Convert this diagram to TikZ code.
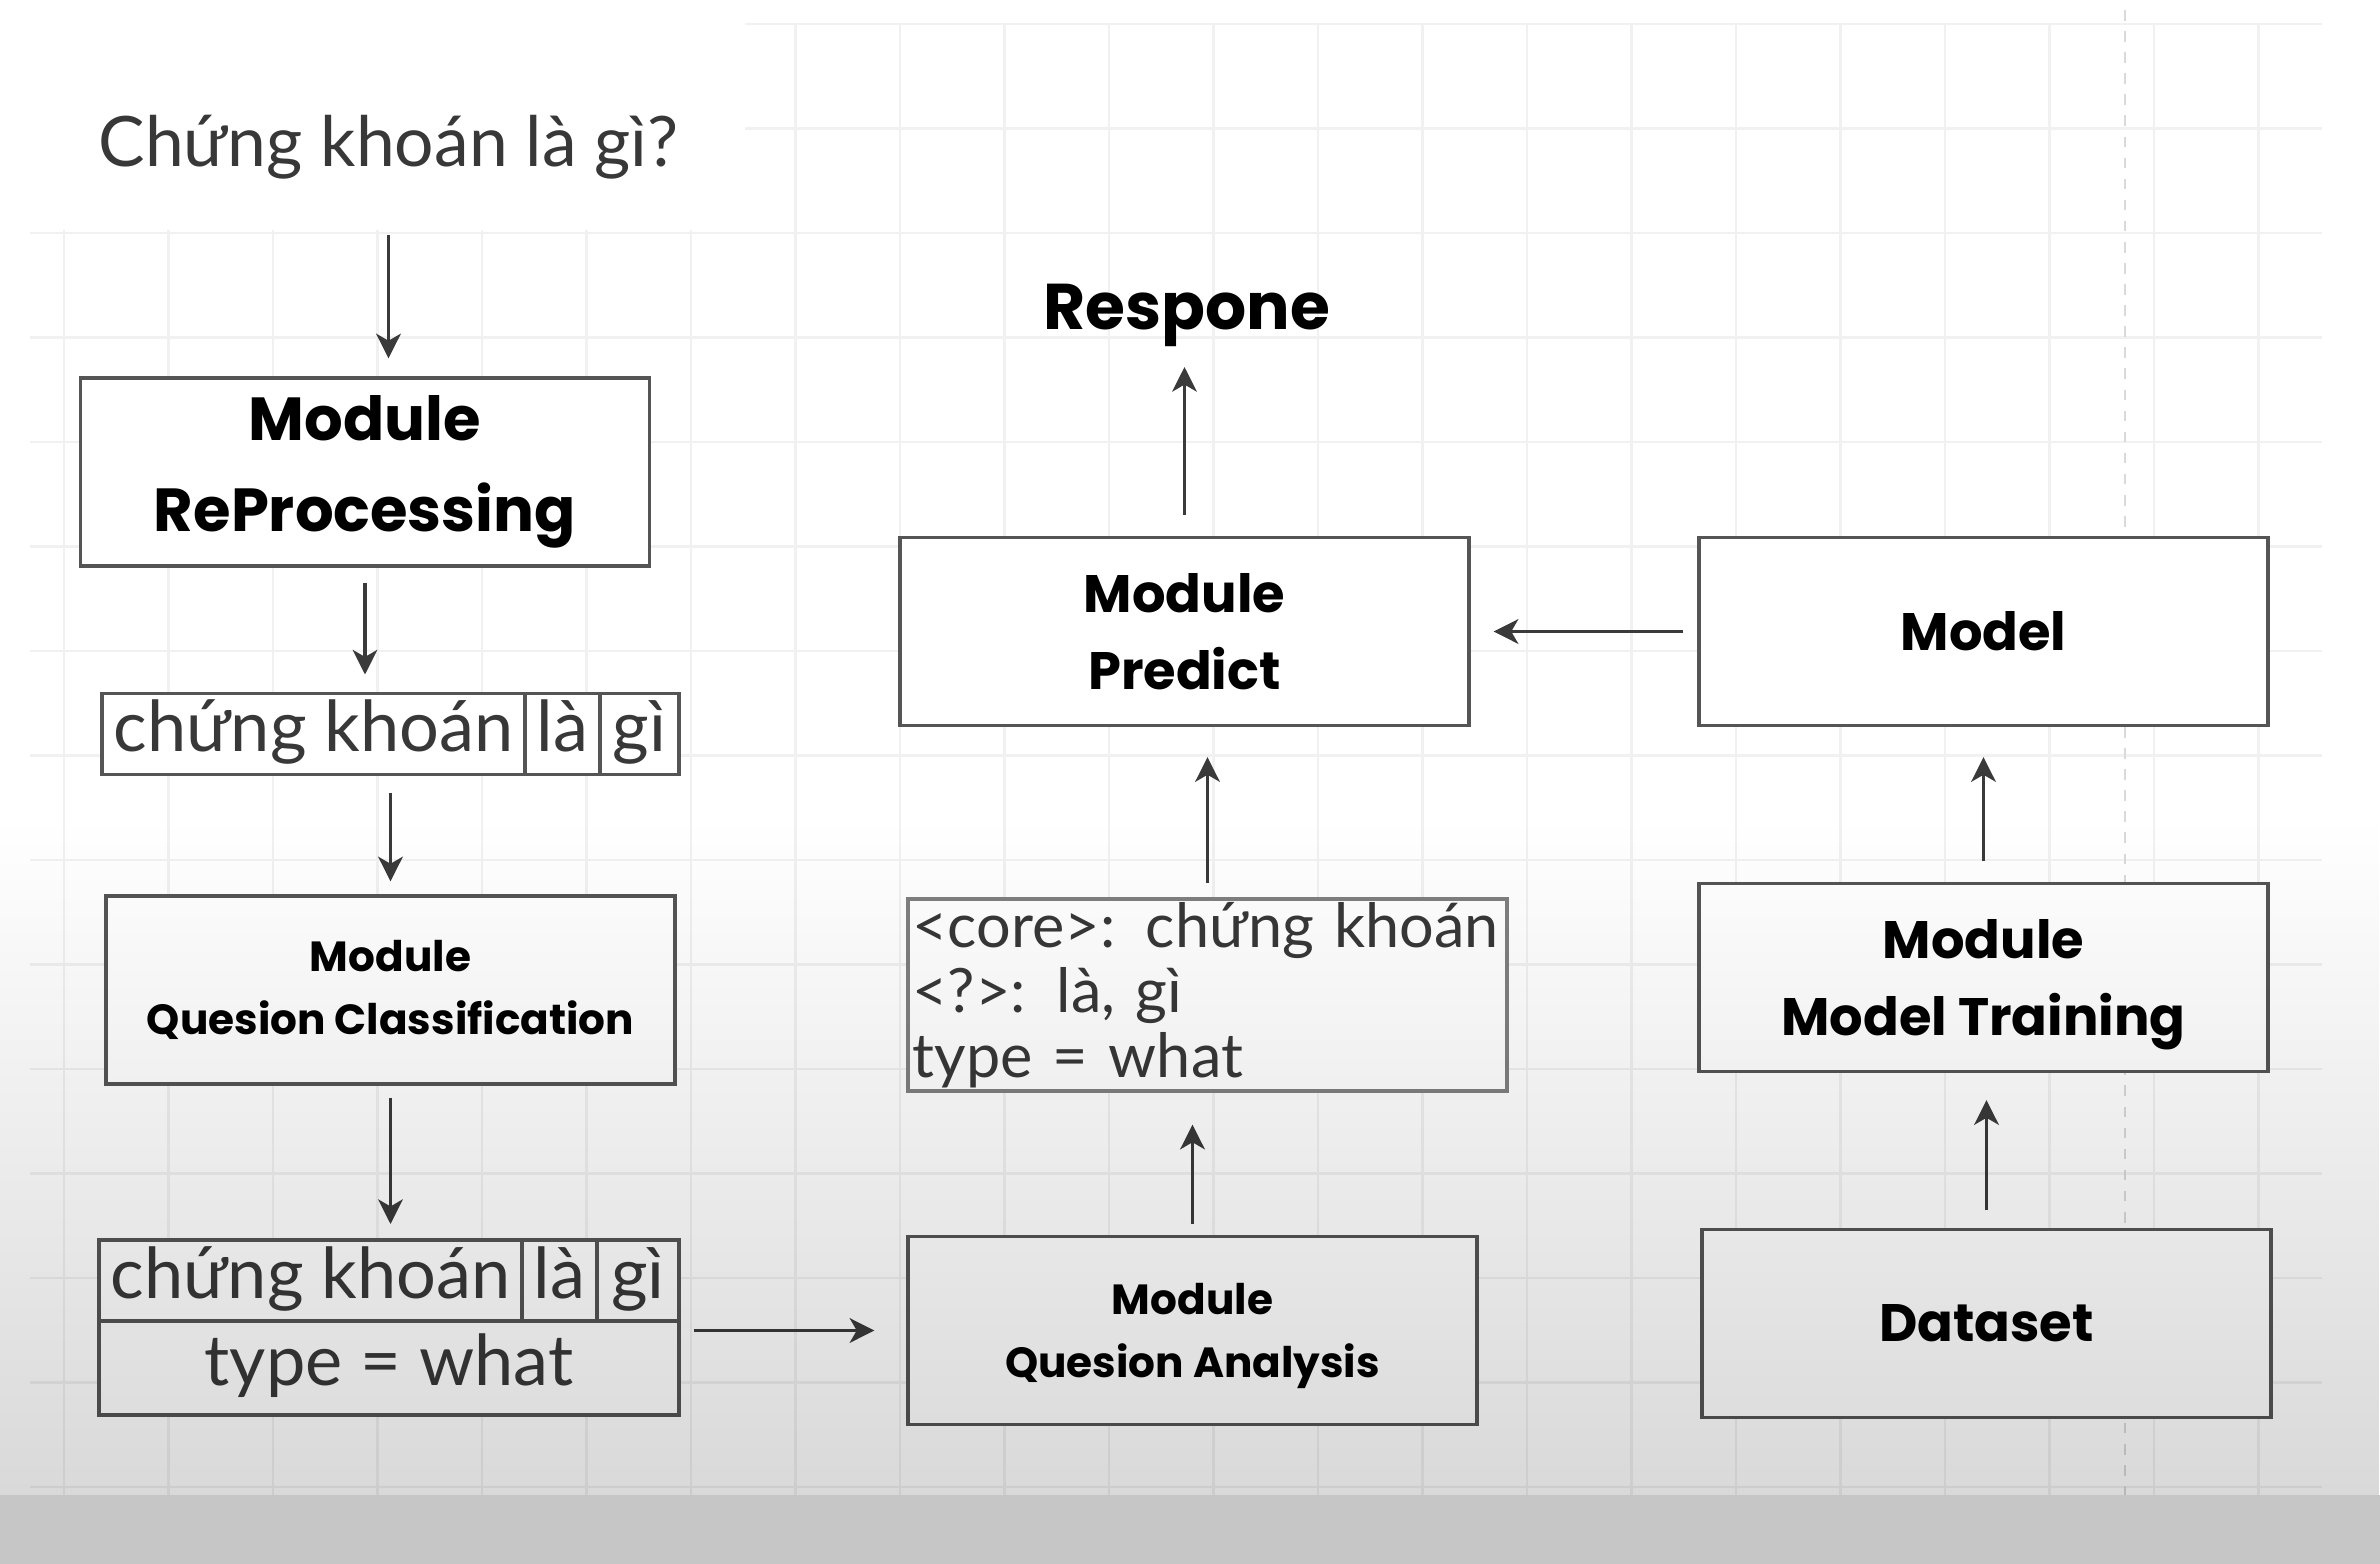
\documentclass[tikz,border=0pt]{standalone}
\usepackage{fontspec}
\setmainfont{Lato}
\newfontfamily\headfont{Poppins}
\usepackage{xcolor}
\usetikzlibrary{positioning}
\usetikzlibrary{calc}
\usetikzlibrary{arrows.meta}
\usetikzlibrary{fadings}

\definecolor{boxline}{HTML}{555555}
\definecolor{arrowline}{HTML}{3A3A3A}
\definecolor{textgray}{HTML}{383838}
\definecolor{gridline}{HTML}{F1F1F1}
\definecolor{stripgray}{HTML}{C6C6C6}

\tikzfading[name=shade up, top color=transparent!100, bottom color=transparent!85]

\begin{document}
\begin{tikzpicture}
  [
    box/.style={draw=boxline, line width=0.95pt, fill=white, inner sep=0pt,
      minimum width=5.69cm, minimum height=1.88cm, align=center},
    head/.style 2 args={font=\headfont\bfseries\fontsize{#1}{#2}\selectfont},
    cell/.style={draw=boxline, line width=0.95pt, fill=white, inner sep=0pt,
      outer sep=0pt, minimum height=0.81cm, text=textgray,
      text height=15pt, text depth=5pt,
      font=\fontsize{20}{20}\selectfont},
    link/.style={-{Stealth[length=7pt, width=7pt, inset=2pt]},
      draw=arrowline, line width=1pt}
  ]

  % background of the slide
  \useasboundingbox (0,0) rectangle (23.8,-15.64);
  \fill [white] (0,0) rectangle (23.8,-15.64);
  \foreach \k in {0,...,21}
    \draw [gridline, line width=0.6pt] (0.64+1.045*\k,-0.24) -- (0.64+1.045*\k,-14.95);
  \foreach \k in {0,...,14}
    \draw [gridline, line width=0.6pt] (0.3,-0.24-1.045*\k) -- (23.22,-0.24-1.045*\k);
  \fill [white] (0,0) rectangle (7.45,-2.30);
  \draw [gray!30, dashed, line width=0.5pt] (21.25,-0.1) -- (21.25,-14.95);

  % left column
  \node (quest) at (3.885,-1.47) [text=textgray, inner sep=0pt,
    font=\fontsize{19.8}{19.8}\selectfont] {Chứng khoán là gì?};

  \node (rep)  at (3.65,-4.72)  [box, head={17.3}{26}] {Module\\ReProcessing};

  \node (t1a) at (3.135,-7.34) [cell, minimum width=4.23cm] {chứng khoán};
  \node (t1b) [cell, minimum width=0.75cm, right=0pt of t1a] {là};
  \node (t1c) [cell, minimum width=0.79cm, right=0pt of t1b] {gì};

  \node (cls)  at (3.905,-9.90) [box, head={12}{18}] {Module\\Quesion Classification};

  \node (t2a) at (3.105,-12.805) [cell, minimum width=4.23cm] {chứng khoán};
  \node (t2b) [cell, minimum width=0.75cm, right=0pt of t2a] {là};
  \node (t2c) [cell, minimum width=0.82cm, right=0pt of t2b] {gì};
  \node (t2w) at (t2a.south west) [cell, anchor=north west, minimum width=5.80cm,
    minimum height=0.94cm] {type = what};

  % middle column
  \node (ana)  at (11.925,-13.305) [box, head={12}{18}, text depth=0pt] {Module\\Quesion Analysis};

  \node (core) at (12.075,-9.95) [box, minimum width=5.99cm, minimum height=1.92cm,
    draw=gray, text width=5.9cm, align=left, text=textgray,
    font=\fontsize{17.4}{18.5}\selectfont]
    {<core>: chứng khoán\\<?>: là, gì\\type = what};

  \node (pred) at (11.845,-6.315) [box, head={15}{22}] {Module\\Predict};

  \node (resp) at (11.87,-3.15) [inner sep=0pt, head={18.4}{18.4}] {Respone};

  % right column
  \node (model) at (19.835,-6.315) [box, head={15}{22}] {Model};
  \node (train) at (19.835,-9.775) [box, head={15}{22}, text depth=0pt] {Module\\Model Training};
  \node (data)  at (19.865,-13.235) [box, head={15}{22}] {Dataset};

  % connectors
  \draw [link, shorten <=0.55cm, shorten >=0.18cm] (quest.south) -- (quest.south |- rep.north);
  \draw [link, shorten <=0.15cm, shorten >=0.19cm] (rep.south) -- (rep.south |- t1a.north);
  \draw [link, shorten <=0.18cm, shorten >=0.13cm] (cls.north |- t1a.south) -- (cls.north);
  \draw [link, shorten <=0.12cm, shorten >=0.16cm] (cls.south) -- (cls.south |- t2a.north);
  \draw [link, shorten <=0.15cm, shorten >=0.32cm] (t2w.east |- ana.west) -- (ana.west);
  \draw [link, shorten <=0.11cm, shorten >=0.32cm] (ana.north) -- (ana.north |- core.south);
  \draw [link, shorten <=0.14cm, shorten >=0.30cm] (core.north) -- (core.north |- pred.south);
  \draw [link, shorten <=0.21cm, shorten >=0.20cm] (pred.north) -- (pred.north |- resp.south);
  \draw [link, shorten <=0.14cm, shorten >=0.23cm] (model.west) -- (pred.east);
  \draw [link, shorten <=0.21cm, shorten >=0.30cm] (train.north) -- (model.south);
  \draw [link, shorten <=0.18cm, shorten >=0.27cm] (data.north) -- (data.north |- train.south);

  % shadow over the lower part
  \fill [black, path fading=shade up] (0,-8.2) rectangle (23.8,-14.95);
  \fill [stripgray] (0,-14.95) rectangle (23.8,-15.64);
\end{tikzpicture}
\end{document}
